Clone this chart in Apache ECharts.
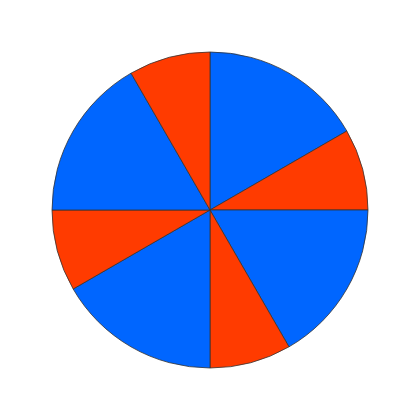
<!DOCTYPE html>
<html><head><meta charset="utf-8">
<script src="https://cdn.jsdelivr.net/npm/echarts@6/dist/echarts.min.js"></script>
<style>html,body{margin:0;padding:0;background:#fff}#c{width:420px;height:420px}</style>
</head><body><div id="c"></div>
<script>
const names = ['A','B','C','D','E','F','G','H'];
const values = [2,1,2,1,2,1,2,1];
const colors = ['#0066FF','#FF3B00','#0066FF','#FF3B00','#0066FF','#FF3B00','#0066FF','#FF3B00'];
const chart = echarts.init(document.getElementById('c'), null, {renderer:'canvas'});
chart.setOption({
  animation:false,
  series:[{
    type:'pie',
    center:[210,210],
    radius:[0,158],
    startAngle:90,
    clockwise:true,
    label:{show:false},
    labelLine:{show:false},
    emphasis:{disabled:true},
    itemStyle:{borderColor:'#333',borderWidth:0.8},
    data: values.map((v,i)=>({name:names[i],value:v,itemStyle:{color:colors[i]}}))
  }]
});
</script></body></html>
